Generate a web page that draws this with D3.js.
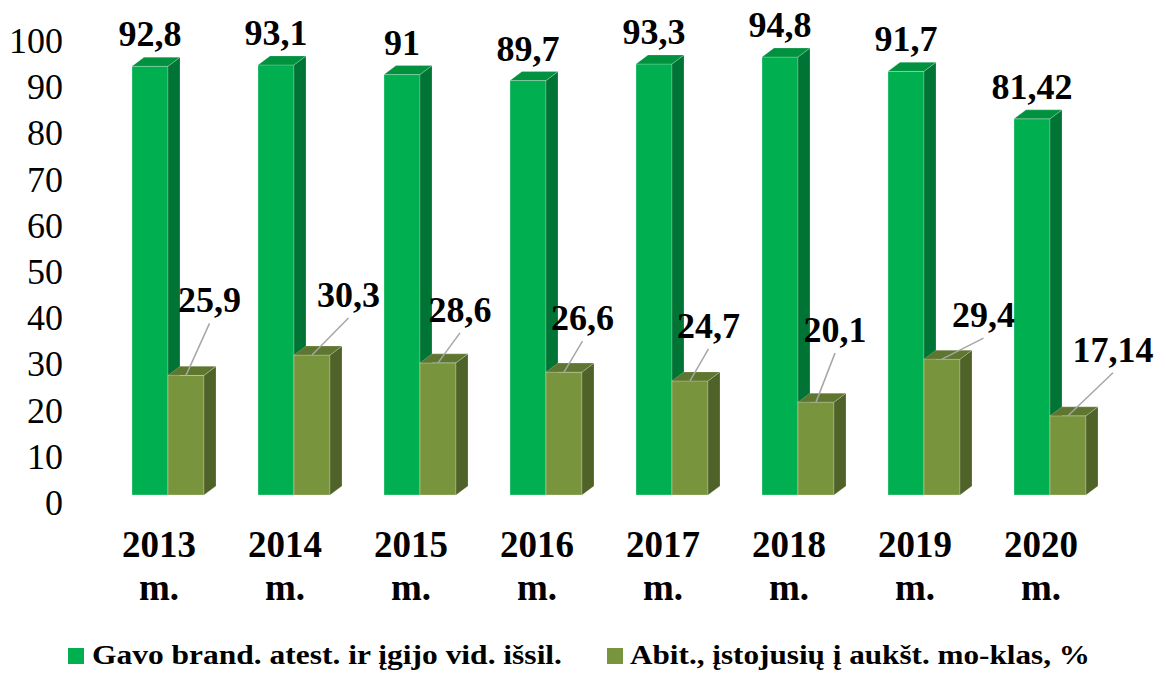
<!DOCTYPE html>
<html>
<head>
<meta charset="utf-8">
<script src="https://cdn.jsdelivr.net/npm/d3@7"></script>
<style>
  body { margin: 0; background: #fff; }
</style>
</head>
<body>
<svg id="chart" width="1166" height="675"></svg>
<script>
// Duomenys
const years = ['2013', '2014', '2015', '2016', '2017', '2018', '2019', '2020'];
const brandValues = [92.8, 93.1, 91, 89.7, 93.3, 94.8, 91.7, 81.42];
const abitValues = [25.9, 30.3, 28.6, 26.6, 24.7, 20.1, 29.4, 17.14];
const yTicks = [0, 10, 20, 30, 40, 50, 60, 70, 80, 90, 100];
const seriesNames = ['Gavo brand. atest. ir įgijo vid. išsil.', 'Abit., įstojusių į aukšt. mo-klas, %'];

// label offsets for the olive series (leader-line labels), relative to bar top
const abitLabelShift = [[23.5, -63], [36.5, -48], [22, -41], [18.5, -42], [18.5, -43], [19, -60], [41.5, -32], [45, -54]];

const colors = [
    { front: '#00B050', side: '#007434', top: '#00923F' },
    { front: '#78943C', side: '#4F6228', top: '#5E762F' }
];

const serif = "'Times New Roman', 'Liberation Serif', Tinos, Times, serif";
const baseY = 495;
const depthX = 12, depthY = 9;

const svg = d3.select('#chart').style('font-family', serif);

const y = d3.scaleLinear().domain([0, 100]).range([baseY, 33]);
const x0 = d3.scaleBand().domain(years).range([105, 1113]);
const x1 = d3.scaleBand().domain([0, 1]).range([27, 99]);

// Y ašies žymės
svg.append('g')
    .selectAll('text')
    .data(yTicks)
    .enter().append('text')
    .attr('x', 63)
    .attr('y', d => y(d) + 8)
    .attr('text-anchor', 'end')
    .attr('dominant-baseline', 'central')
    .style('font-family', serif)
    .style('font-size', '36px')
    .style('fill', '#000')
    .text(d => d);

// 3D stulpeliai
function drawBar(g, xl, v, c) {
    const w = x1.bandwidth();
    const top = y(v);
    g.append('rect')
        .attr('x', xl).attr('y', top)
        .attr('width', w).attr('height', baseY - top)
        .attr('fill', c.front)
        .attr('stroke', 'rgba(255,255,255,0.35)').attr('stroke-width', 0.8);
    g.append('path')
        .attr('d', `M${xl + w},${top} L${xl + w + depthX},${top - depthY} L${xl + w + depthX},${baseY - depthY} L${xl + w},${baseY} Z`)
        .attr('fill', c.side)
        .attr('stroke', 'rgba(255,255,255,0.25)').attr('stroke-width', 0.8);
    g.append('path')
        .attr('d', `M${xl},${top} L${xl + depthX},${top - depthY} L${xl + w + depthX},${top - depthY} L${xl + w},${top} Z`)
        .attr('fill', c.top)
        .attr('stroke', 'rgba(255,255,255,0.25)').attr('stroke-width', 0.8);
}

const fmt = v => String(v).replace('.', ',');

const bars = svg.append('g');
years.forEach((yr, i) => {
    const g = bars.append('g');
    drawBar(g, x0(yr) + x1(0), brandValues[i], colors[0]);
    drawBar(g, x0(yr) + x1(1), abitValues[i], colors[1]);
});

// Reikšmių etiketės
const labels = svg.append('g')
    .style('font-family', serif)
    .style('font-size', '36px')
    .style('font-weight', 'bold')
    .style('fill', '#000');

years.forEach((yr, i) => {
    const gx = x0(yr) + x1(0) + x1.bandwidth() / 2;
    labels.append('text')
        .attr('x', gx)
        .attr('y', y(brandValues[i]) - 20)
        .attr('text-anchor', 'middle')
        .text(fmt(brandValues[i]));

    const ox = x0(yr) + x1(1) + x1.bandwidth() / 2;
    const oy = y(abitValues[i]);
    const lx = ox + abitLabelShift[i][0];
    const ly = oy + abitLabelShift[i][1];
    svg.append('line')
        .attr('x1', lx).attr('y1', ly + 11)
        .attr('x2', ox).attr('y2', oy)
        .attr('stroke', '#A6A6A6')
        .attr('stroke-width', 1.5);
    labels.append('text')
        .attr('x', lx)
        .attr('y', ly)
        .attr('text-anchor', 'middle')
        .text(fmt(abitValues[i]));
});

// X ašies žymės
const xl = svg.append('g')
    .style('font-family', serif)
    .style('font-size', '37px')
    .style('font-weight', 'bold')
    .attr('text-anchor', 'middle');
years.forEach(yr => {
    const cx = x0(yr) + x0.bandwidth() / 2 - 9;
    xl.append('text').attr('x', cx).attr('y', 557).text(yr);
    xl.append('text').attr('x', cx).attr('y', 600).text('m.');
});

// Legenda
const legendItems = [
    { name: seriesNames[0], color: colors[0].front, x: 68, tx: 92, len: 470 },
    { name: seriesNames[1], color: colors[1].front, x: 607, tx: 630, len: 460 }
];
const legend = svg.append('g');
legendItems.forEach(d => {
    legend.append('rect')
        .attr('x', d.x).attr('y', 648)
        .attr('width', 16).attr('height', 16)
        .attr('fill', d.color);
    legend.append('text')
        .attr('x', d.tx).attr('y', 664)
        .attr('textLength', d.len)
        .attr('lengthAdjust', 'spacingAndGlyphs')
        .style('font-family', serif)
        .style('font-size', '28px')
        .style('font-weight', 'bold')
        .text(d.name);
});
</script>
</body>
</html>
